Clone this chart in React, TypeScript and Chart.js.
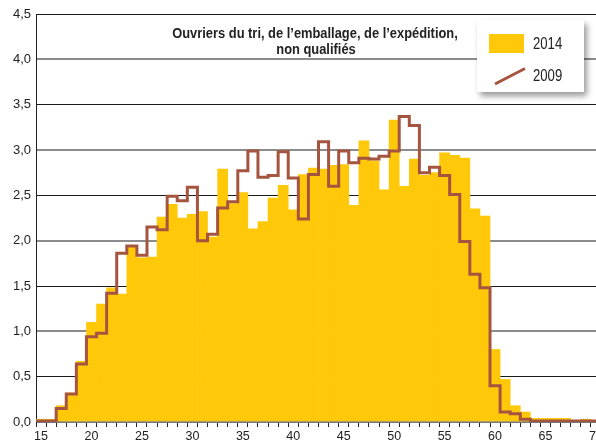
import React, { useEffect, useRef } from "react";
import { Chart, registerables } from "chart.js";

Chart.register(...registerables);

const ages = [
  15, 16, 17, 18, 19, 20, 21, 22, 23, 24, 25, 26, 27, 28, 29, 30, 31, 32, 33, 34,
  35, 36, 37, 38, 39, 40, 41, 42, 43, 44, 45, 46, 47, 48, 49, 50, 51, 52, 53, 54,
  55, 56, 57, 58, 59, 60, 61, 62, 63, 64, 65, 66, 67, 68, 69, 70,
];

const values2014 = [
  0.03, 0.03, 0.18, 0.32, 0.67, 1.1, 1.3, 1.48, 1.41, 1.93, 1.81, 1.82, 2.26, 2.4, 2.25, 2.29, 2.32, 2.04, 2.79, 2.41,
  2.53, 2.13, 2.21, 2.47, 2.61, 2.34, 2.73, 2.8, 2.79, 2.83, 2.84, 2.39, 3.1, 2.88, 2.56, 3.33, 2.6, 2.9, 2.72, 2.75,
  2.97, 2.94, 2.91, 2.35, 2.27, 0.8, 0.47, 0.18, 0.11, 0.04, 0.04, 0.04, 0.04, 0.01, 0.03, 0.01,
];

const values2009 = [
  0.01, 0.01, 0.15, 0.31, 0.64, 0.94, 0.98, 1.42, 1.86, 1.94, 1.84, 2.15, 2.12, 2.49, 2.44, 2.59, 2.0, 2.07, 2.36, 2.43,
  2.77, 2.99, 2.7, 2.72, 2.98, 2.69, 2.24, 2.73, 3.09, 2.6, 2.99, 2.86, 2.91, 2.9, 2.93, 2.99, 3.37, 3.27, 2.75, 2.81,
  2.72, 2.51, 1.99, 1.63, 1.48, 0.4, 0.11, 0.09, 0.03, 0.01, 0.01, 0.01, 0.01, 0.01, 0.01, 0.01,
];

const titleLines = ["Ouvriers du tri, de l\u2019emballage, de l\u2019expédition,", "non qualifiés"];
const seriesLabels = ["2014", "2009"];

const YELLOW = "#FFC90A";
const BROWN = "#A5553F";
const FONT = "'Liberation Sans', Arial, sans-serif";

function narrowText(ctx: any, text: string, x: number, y: number, sx: number, align: string) {
  ctx.save();
  ctx.translate(x, y);
  ctx.scale(sx, 1);
  ctx.textAlign = align;
  ctx.fillText(text, 0, 0);
  ctx.restore();
}

const overlayPlugin = {
  id: "overlay",
  afterDraw(chart: any) {
    const ctx = chart.ctx;
    ctx.save();
    // title
    ctx.fillStyle = "#222";
    ctx.font = `bold 14px ${FONT}`;
    ctx.textBaseline = "middle";
    narrowText(ctx, titleLines[0], 315, 34, 0.92, "center");
    narrowText(ctx, titleLines[1], 316, 50, 0.92, "center");

    // legend box with shadow
    const bx = 477, by = 20, bw = 107, bh = 72;
    ctx.save();
    ctx.shadowColor = "rgba(0,0,0,0.4)";
    ctx.shadowBlur = 6;
    ctx.shadowOffsetX = 3;
    ctx.shadowOffsetY = 4;
    ctx.fillStyle = "#fff";
    ctx.fillRect(bx, by, bw, bh);
    ctx.restore();

    ctx.fillStyle = YELLOW;
    ctx.fillRect(489, 34, 35, 19);
    ctx.strokeStyle = BROWN;
    ctx.lineWidth = 3;
    ctx.beginPath();
    ctx.moveTo(495, 84);
    ctx.lineTo(525, 68.5);
    ctx.stroke();

    ctx.fillStyle = "#222";
    ctx.font = `16px ${FONT}`;
    ctx.textBaseline = "middle";
    narrowText(ctx, seriesLabels[0], 533, 45, 0.82, "left");
    narrowText(ctx, seriesLabels[1], 533, 77, 0.82, "left");
    ctx.restore();
  },
};

export default function App() {
  const ref = useRef<HTMLCanvasElement>(null);

  useEffect(() => {
    if (!ref.current) return;
    const lineData = ages.map((a, i) => ({ x: a, y: values2009[i] }));
    lineData.push({ x: ages[ages.length - 1] + 1, y: values2009[values2009.length - 1] });

    const chart = new Chart(ref.current, {
      type: "bar",
      data: {
        labels: ages.map(String),
        datasets: [
          {
            type: "line",
            label: seriesLabels[1],
            data: lineData as any,
            xAxisID: "x2",
            borderColor: BROWN,
            borderWidth: 3,
            pointRadius: 0,
            stepped: "before",
            fill: false,
            order: 0,
          } as any,
          {
            type: "bar",
            label: seriesLabels[0],
            data: values2014,
            backgroundColor: YELLOW,
            borderWidth: 0,
            barPercentage: 1,
            categoryPercentage: 1,
            grouped: false,
            order: 1,
          },
        ],
      },
      options: {
        responsive: false,
        animation: false,
        layout: { padding: { left: 0, right: 11, top: 14, bottom: 0 } },
        plugins: { legend: { display: false }, tooltip: { enabled: false }, title: { display: false } },
        scales: {
          x: {
            type: "category",
            offset: true,
            grid: {
              offset: true,
              drawOnChartArea: false,
              drawTicks: true,
              tickLength: 5,
              tickColor: "#222",
              tickWidth: 1,
            },
            border: { display: true, color: "#777", width: 1 },
            ticks: {
              autoSkip: false,
              maxRotation: 0,
              padding: 2,
              color: "#222",
              font: { family: FONT, size: 12.5 },
              callback: function (this: any, _v: any, index: number) {
                const a = ages[index];
                return a % 5 === 0 ? String(a) : "";
              },
            },
            afterFit: (scale: any) => {
              scale.height = 21;
            },
          },
          x2: {
            type: "linear",
            display: false,
            min: ages[0],
            max: ages[ages.length - 1] + 1,
            offset: false,
          },
          y: {
            min: 0,
            max: 4.5,
            ticks: {
              stepSize: 0.5,
              padding: 5,
              color: "#222",
              font: { family: FONT, size: 13 },
              callback: (v: any) => Number(v).toFixed(1).replace(".", ","),
            },
            grid: {
              drawTicks: false,
              color: (c: any) => (c.tick && Math.abs(c.tick.value % 1) < 1e-6 ? "#8c8c8c" : "#1a1a1a"),
              lineWidth: (c: any) => (c.tick && Math.abs(c.tick.value % 1) < 1e-6 ? 2 : 1),
            },
            border: { display: true, color: "#222", width: 1 },
            afterFit: (scale: any) => {
              scale.width = 36;
            },
          },
        },
      },
      plugins: [overlayPlugin],
    });
    return () => chart.destroy();
  }, []);

  return (
    <div style={{ position: "fixed", left: 0, top: 0, width: 596, height: 443, overflow: "hidden", background: "#fff" }}>
      <canvas ref={ref} width={612} height={443} style={{ display: "block" }} />
    </div>
  );
}
